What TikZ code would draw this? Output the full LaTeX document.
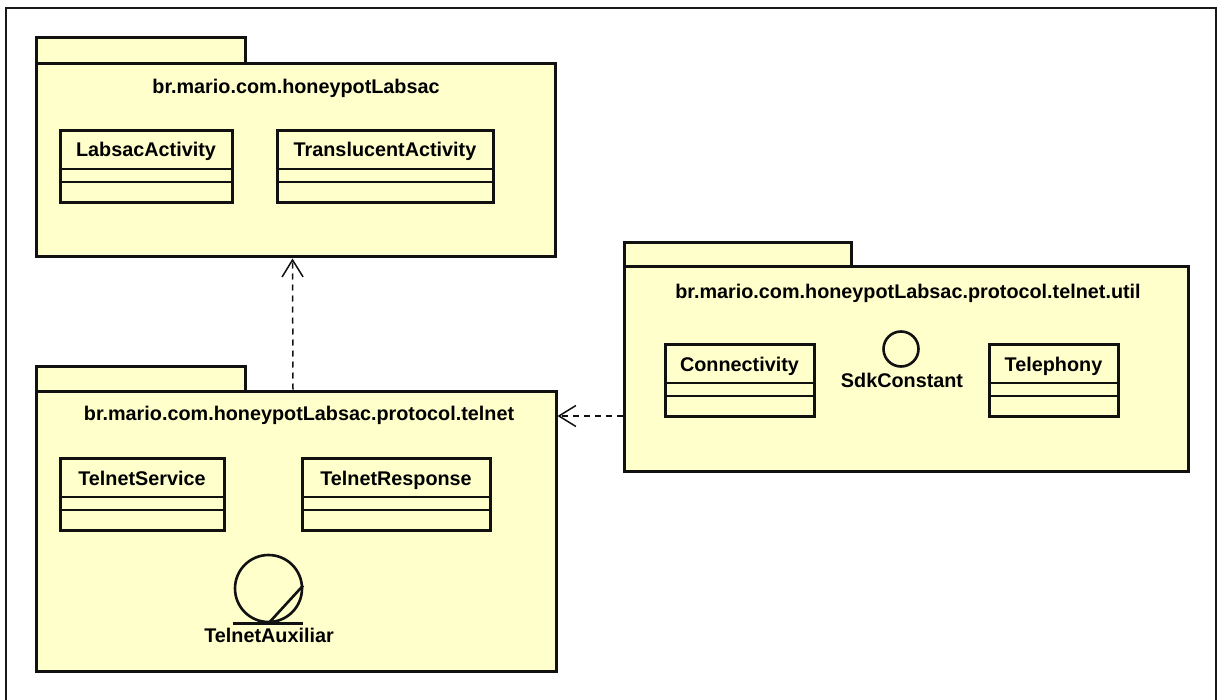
\documentclass[tikz,border=0pt]{standalone}
\usepackage{fontspec}
\setmainfont{Liberation Sans}
\usetikzlibrary{arrows.meta,calc}
\definecolor{pkgfill}{HTML}{FFFFCC}
\definecolor{ink}{HTML}{111111}

\tikzset{
  pkgbody/.style={draw=ink, fill=pkgfill, line width=3pt, rectangle, inner sep=0pt},
  pkgtab/.style={pkgbody},
  pkgtitle/.style={font=\bfseries\fontsize{19.8}{22}\selectfont, inner sep=0pt, anchor=base},
  classbox/.style={draw=ink, fill=pkgfill, line width=3pt, rectangle, inner sep=0pt, minimum height=72pt, anchor=north},
  classname/.style={font=\bfseries\fontsize{19.8}{22}\selectfont, inner sep=0pt, anchor=base},
  compart/.style={draw=ink, line width=1.2pt},
  symline/.style={draw=ink, line width=2.6pt},
  dep/.style={draw=ink, line width=1.5pt, dash pattern=on 6pt off 5pt,
              -{Straight Barb[length=17pt,width=21pt,line width=1.5pt]}},
  frame/.style={draw=black!90, line width=2pt}
}

% class box: name, centre x, top y, width, text
\newcommand{\umlclassbox}[5]{%
  \node[classbox, minimum width=#4pt] (#1) at (#2,#3) {};
  \node[classname] (#1-name) at ($(#1.north)+(0,28)$) {#5};
  \draw[compart] ($(#1.north west)+(0,40)$) -- ($(#1.north east)+(0,40)$);
  \draw[compart] ($(#1.north west)+(0,53)$) -- ($(#1.north east)+(0,53)$);
}

\begin{document}
\begin{tikzpicture}[x=1pt, y=-1pt]
\useasboundingbox (0,0) rectangle (1217,700);

% diagram frame (open at the bottom)
\draw[frame] (6,702) -- (6,8) -- (1216,8) -- (1216,702);

% package br.mario.com.honeypotLabsac
\node[pkgtab, minimum width=209pt, minimum height=26pt] (p1tab) at (140.5,51) {};
\node[pkgbody, minimum width=519pt, minimum height=193pt] (p1) at (295.5,160.5) {};
\node[pkgtitle] (p1title) at (296,94) {br.mario.com.honeypotLabsac};
\umlclassbox{labsac}{146}{129}{172}{LabsacActivity}
\umlclassbox{translucent}{385}{129}{216}{TranslucentActivity}

% package br.mario.com.honeypotLabsac.protocol.telnet
\node[pkgtab, minimum width=209pt, minimum height=25pt] (p2tab) at (140.5,378.5) {};
\node[pkgbody, minimum width=520pt, minimum height=280pt] (p2) at (296,531) {};
\node[pkgtitle] (p2title) at (299,420) {br.mario.com.honeypotLabsac.protocol.telnet};
\umlclassbox{tservice}{142}{457}{164}{TelnetService}
\umlclassbox{tresponse}{396}{457}{188}{TelnetResponse}
% TelnetAuxiliar
\node[symline, circle, minimum size=67pt, inner sep=0pt] (taux) at (268.5,588.5) {};
\draw[symline] ($(taux.south)+(-36,0)$) -- ($(taux.south)+(34,0)$);
\draw[symline] (taux.south) -- (taux.5);
\node[classname] (taux-name) at (269,642) {TelnetAuxiliar};

% package br.mario.com.honeypotLabsac.protocol.telnet.util
\node[pkgtab, minimum width=227pt, minimum height=24pt] (p3tab) at (737.5,255) {};
\node[pkgbody, minimum width=564pt, minimum height=204pt] (p3) at (906,369) {};
\node[pkgtitle] (p3title) at (908,299) {br.mario.com.honeypotLabsac.protocol.telnet.util};
\umlclassbox{connectivity}{739.5}{343}{149}{Connectivity}
\umlclassbox{telephony}{1053.5}{343}{129}{Telephony}
% SdkConstant
\node[symline, circle, minimum size=35pt, inner sep=0pt] (sdk) at (901,349) {};
\node[classname] (sdk-name) at (902,387) {SdkConstant};

% dependencies
\draw[dep] ([xshift=-3pt]p2.north) -- ([xshift=-3pt]p1.south);
\draw[dep] (p3.west |- 0,416) -- (p2.east |- 0,416);

\end{tikzpicture}
\end{document}
